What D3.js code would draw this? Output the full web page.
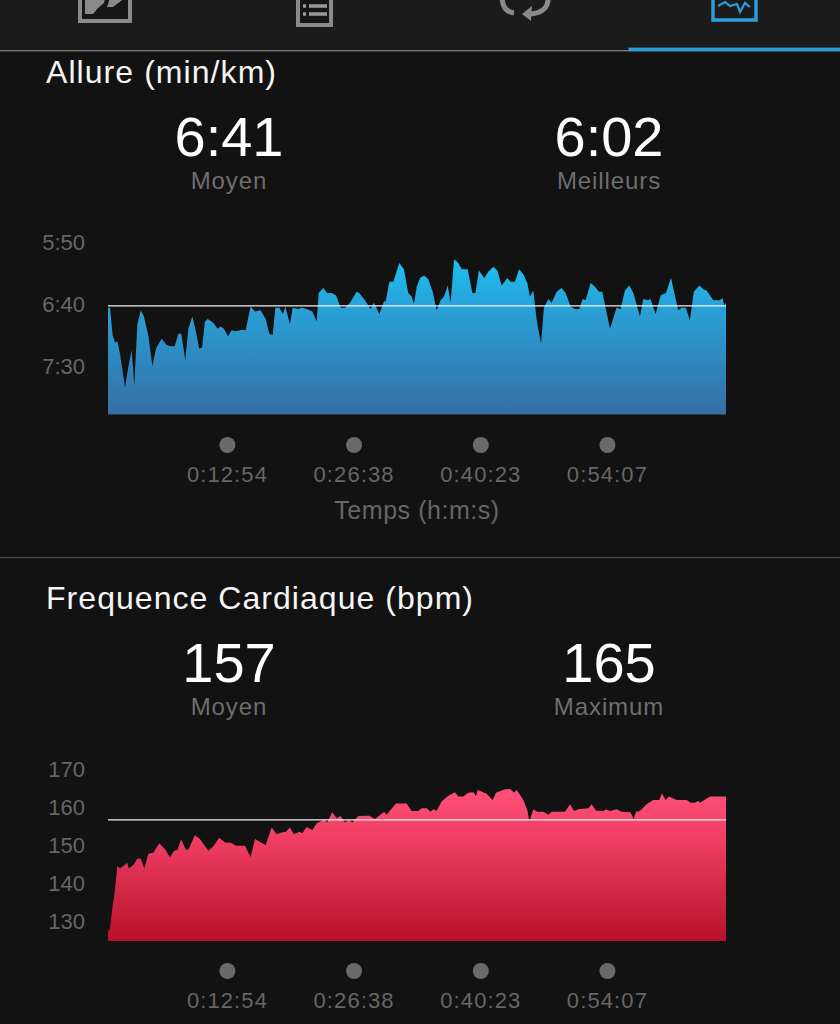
<!DOCTYPE html>
<html><head><meta charset="utf-8">
<script src="https://cdn.jsdelivr.net/npm/d3@7"></script>
<style>
html,body{margin:0;padding:0;background:#121212;overflow:hidden}
svg{display:block}
text{font-family:"Liberation Sans",Arial,sans-serif}
</style></head><body><svg id="c" width="840" height="1024"></svg>
<script>
// time in seconds, pace in seconds per km
const paceTime=[0,13,30,46,61,78,111,132,154,171,191,213,234,263,289,312,349,382,408,434,458,477,503,523,549,570,594,612,631,649,685,714,733,755,781,805,826,870,896,928,957,993,1026,1050,1072,1089,1115,1139,1154,1184,1202,1239,1260,1293,1330,1358,1371,1401,1427,1455,1484,1514,1542,1575,1618,1635,1672,1709,1731,1766,1796,1807,1831,1857,1896,1926,1954,1976,1991,2009,2031,2057,2085,2113,2139,2165,2187,2211,2230,2252,2280,2302,2341,2371,2391,2414,2449,2475,2508,2534,2562,2599,2620,2649,2675,2703,2729,2746,2768,2790,2818,2837,2866,2887,2920,2952,2978,3011,3039,3067,3089,3108,3141,3169,3195,3217,3267,3310,3336,3364,3393,3419,3462,3484,3516,3531,3564,3597,3631,3664,3711,3733,3761,3787,3813,3848,3874,3896,3939,3983,3998,4011,4022];
const paceValues=[403,403,425,431,430,440,467,451,437,465,417,405,410,426,450,436,428,433,434,434,424,424,445,420,410,421,436,435,414,412,415,420,418,420,426,421,422,421,421,402,406,405,412,424,425,403,403,408,402,416,403,404,403,404,406,414,391,387,391,391,393,403,403,399,390,391,397,404,399,408,398,398,382,382,367,372,391,394,400,386,379,377,380,390,405,397,394,385,399,364,367,372,372,391,391,373,379,374,370,373,385,379,382,382,372,376,383,394,389,413,432,403,396,399,390,387,391,402,404,404,396,397,383,386,390,390,420,403,404,389,385,391,410,396,397,396,408,393,391,379,405,403,403,413,390,385,388,389,397,397,395,401,399];
// time in seconds, heart rate in bpm
const hrTime=[0,13,28,43,61,78,100,126,135,165,191,213,236,263,295,334,371,403,430,453,475,508,525,566,599,653,685,724,761,800,833,892,928,957,989,1026,1065,1098,1130,1158,1184,1210,1245,1265,1293,1330,1358,1406,1427,1460,1488,1514,1542,1564,1590,1629,1701,1737,1798,1813,1874,1943,1976,2019,2041,2074,2100,2117,2139,2171,2215,2258,2280,2312,2345,2378,2395,2406,2464,2503,2525,2584,2616,2644,2660,2703,2729,2742,2768,2794,2833,2866,2887,2974,3007,3033,3061,3126,3148,3176,3224,3241,3267,3310,3343,3401,3421,3436,3462,3505,3549,3588,3605,3629,3651,3701,3766,3792,3820,3842,3852,3917,4022];
const hrValues=[127.5,128.3,133.6,137.5,144.6,144.0,144.6,145.5,144.0,144.9,146.5,146.6,144.0,147.8,148.1,150.6,149.0,146.9,148.6,148.8,151.6,148.8,149.0,152.7,151.6,148.6,149.7,152.0,150.8,150.7,149.9,149.9,146.9,151.7,150.9,150.1,154.7,152.9,153.4,153.6,154.7,152.9,153.6,153.2,154.8,154.0,155.8,156.7,156.1,158.7,157.1,157.7,156.0,156.7,156.0,157.7,157.8,156.9,158.8,158.0,161.0,161.0,159.0,159.0,159.7,159.7,158.8,159.5,159.1,161.5,163.0,163.9,162.8,162.8,163.8,163.9,162.9,164.5,163.5,161.9,163.8,164.7,164.8,163.8,164.5,161.9,159.3,156.2,159.5,158.8,158.8,158.0,158.8,158.8,160.8,159.0,159.5,159.7,160.8,159.1,159.0,159.5,159.0,159.5,158.8,158.7,156.8,158.8,159.0,160.8,161.9,161.9,163.6,161.9,162.8,161.9,161.9,161.2,161.2,161.7,161.2,162.8,162.8];
const timeTicks=[774,1598,2423,3247];
const timeLabels=["0:12:54","0:26:38","0:40:23","0:54:07"];
const paceTicks=[350,400,450];
const paceTickLabels=["5:50","6:40","7:30"];
const hrTicks=[170,160,150,140,130];
const paceMean=401.5, hrMean=156.7;

const svg=d3.select("#c");
svg.append("rect").attr("width",840).attr("height",1024).attr("fill","#121212");
const defs=svg.append("defs");
function grad(id,stops){
  const g=defs.append("linearGradient").attr("id",id).attr("x1",0).attr("y1",0).attr("x2",0).attr("y2",1);
  stops.forEach(s=>g.append("stop").attr("offset",s[0]).attr("stop-color",s[1]));
}
grad("gp",[[0,"#1cbff0"],[0.35,"#2a9ed4"],[0.7,"#2f85bb"],[1,"#376ea2"]]);
grad("gh",[[0,"#ff5079"],[0.35,"#ef3d61"],[0.7,"#cf2644"],[1,"#b80f2b"]]);

// header
const GR="#8a8a8a";
svg.append("rect").attr("width",840).attr("height",50).attr("fill","#1b1b1b");
svg.append("rect").attr("y",50).attr("width",840).attr("height",1.4).attr("fill","#777");
svg.append("rect").attr("x",628.5).attr("y",47.6).attr("width",211.5).attr("height",3.6).attr("fill","#2a9fdc");
const icon=svg.append("g").attr("fill","none").attr("stroke",GR).attr("stroke-width",4);
icon.append("path").attr("d","M80,-4V21H130V-4").attr("fill","#161616");
icon.append("path").attr("d","M85,-2V14H93L98,8L104,3L105,-2ZM107,7H113L125,-2H110Z").attr("stroke","none").attr("fill",GR);
icon.append("path").attr("d","M298,-4V25H331V-4").attr("fill","#161616");
icon.append("path").attr("d","M303,6h3M309,6h18M303,14h3M309,14h18").attr("stroke-width",3.5).attr("stroke","#9a9a9a");
icon.append("path").attr("d","M502,-4C502,6 506,12 514,13").attr("stroke-width",5);
icon.append("path").attr("d","M548,-4C549,6 544,13 530,14").attr("stroke-width",5);
icon.append("path").attr("d","M532,6L522,14L531,21Z").attr("stroke","none").attr("fill",GR);
const ib=svg.append("g").attr("fill","none").attr("stroke","#2a9fdc").attr("stroke-width",3.5);
ib.append("path").attr("d","M713,-4V20H756V-4");
ib.append("path").attr("d","M718,6L725,2L730,6L737,4L740,12L745,3L750,7").attr("stroke-width",2.2);

function panel(o){
  const x=d3.scaleLinear().domain([0,4022]).range([108,726]);
  const y=d3.scaleLinear().domain(o.domain).range(o.range);
  const g=svg.append("g");
  g.append("text").attr("x",46).attr("y",o.dy+82.5).attr("fill","#f5f5f5").attr("font-size",32).attr("textLength",o.titleW).attr("lengthAdjust","spacing").text(o.title);
  o.stats.forEach(s=>{
    g.append("text").attr("x",s[0]).attr("y",o.dy+155.5).attr("text-anchor","middle").attr("fill","#fff").attr("font-size",56).text(s[1]);
    g.append("text").attr("x",s[0]).attr("y",o.dy+189).attr("text-anchor","middle").attr("fill","#6e6e6e").attr("font-size",24).attr("letter-spacing",0.9).text(s[2]);
  });
  const base=o.range[0];
  const area=d3.area().x((d,i)=>x(o.t[i])).y0(base).y1(d=>y(d));
  g.append("path").datum(o.v).attr("d",area).attr("fill","url(#"+o.grad+")");
  g.append("line").attr("x1",x(0)).attr("x2",x(4022)).attr("y1",y(o.mean)).attr("y2",y(o.mean)).attr("stroke","#f2f2f2").attr("stroke-width",1.3);
  const ya=d3.axisLeft(y).tickValues(o.yTicks).tickSize(0).tickPadding(0).tickFormat(o.yFmt);
  const yg=g.append("g").attr("transform","translate(85,0)").call(ya);
  yg.select(".domain").remove();
  yg.selectAll("text").attr("fill","#666").attr("font-size",22).attr("font-family","'Liberation Sans',sans-serif");
  const xa=d3.axisBottom(x).tickValues(timeTicks).tickSize(0).tickPadding(0).tickFormat((d,i)=>timeLabels[i]);
  const xg=g.append("g").attr("transform","translate(0,"+(o.dy+445)+")").call(xa);
  xg.select(".domain").remove();
  xg.selectAll(".tick").append("circle").attr("r",8).attr("fill","#6a6a6a");
  xg.selectAll(".tick text").attr("fill","#666").attr("font-size",22).attr("y",37).attr("dy","0").attr("letter-spacing",1.1).attr("font-family","'Liberation Sans',sans-serif");
  if(o.xTitle) g.append("text").attr("x",417).attr("y",o.dy+519).attr("text-anchor","middle").attr("fill","#666").attr("font-size",25).attr("letter-spacing",0.55).text(o.xTitle);
}

panel({dy:0,title:"Allure (min/km)",titleW:230,grad:"gp",
  stats:[[229,"6:41","Moyen"],[609,"6:02","Meilleurs"]],
  t:paceTime,v:paceValues,mean:paceMean,
  domain:[489,350],range:[414.5,242],
  yTicks:paceTicks,yFmt:(d,i)=>paceTickLabels[i],xTitle:"Temps (h:m:s)"});
svg.append("rect").attr("y",557).attr("width",840).attr("height",1.2).attr("fill","#4a4a4a");
panel({dy:526,title:"Frequence Cardiaque (bpm)",titleW:427,grad:"gh",
  stats:[[229,"157","Moyen"],[609,"165","Maximum"]],
  t:hrTime,v:hrValues,mean:hrMean,
  domain:[125,170],range:[941,769],
  yTicks:hrTicks,yFmt:d=>d,xTitle:null});
</script></body></html>
